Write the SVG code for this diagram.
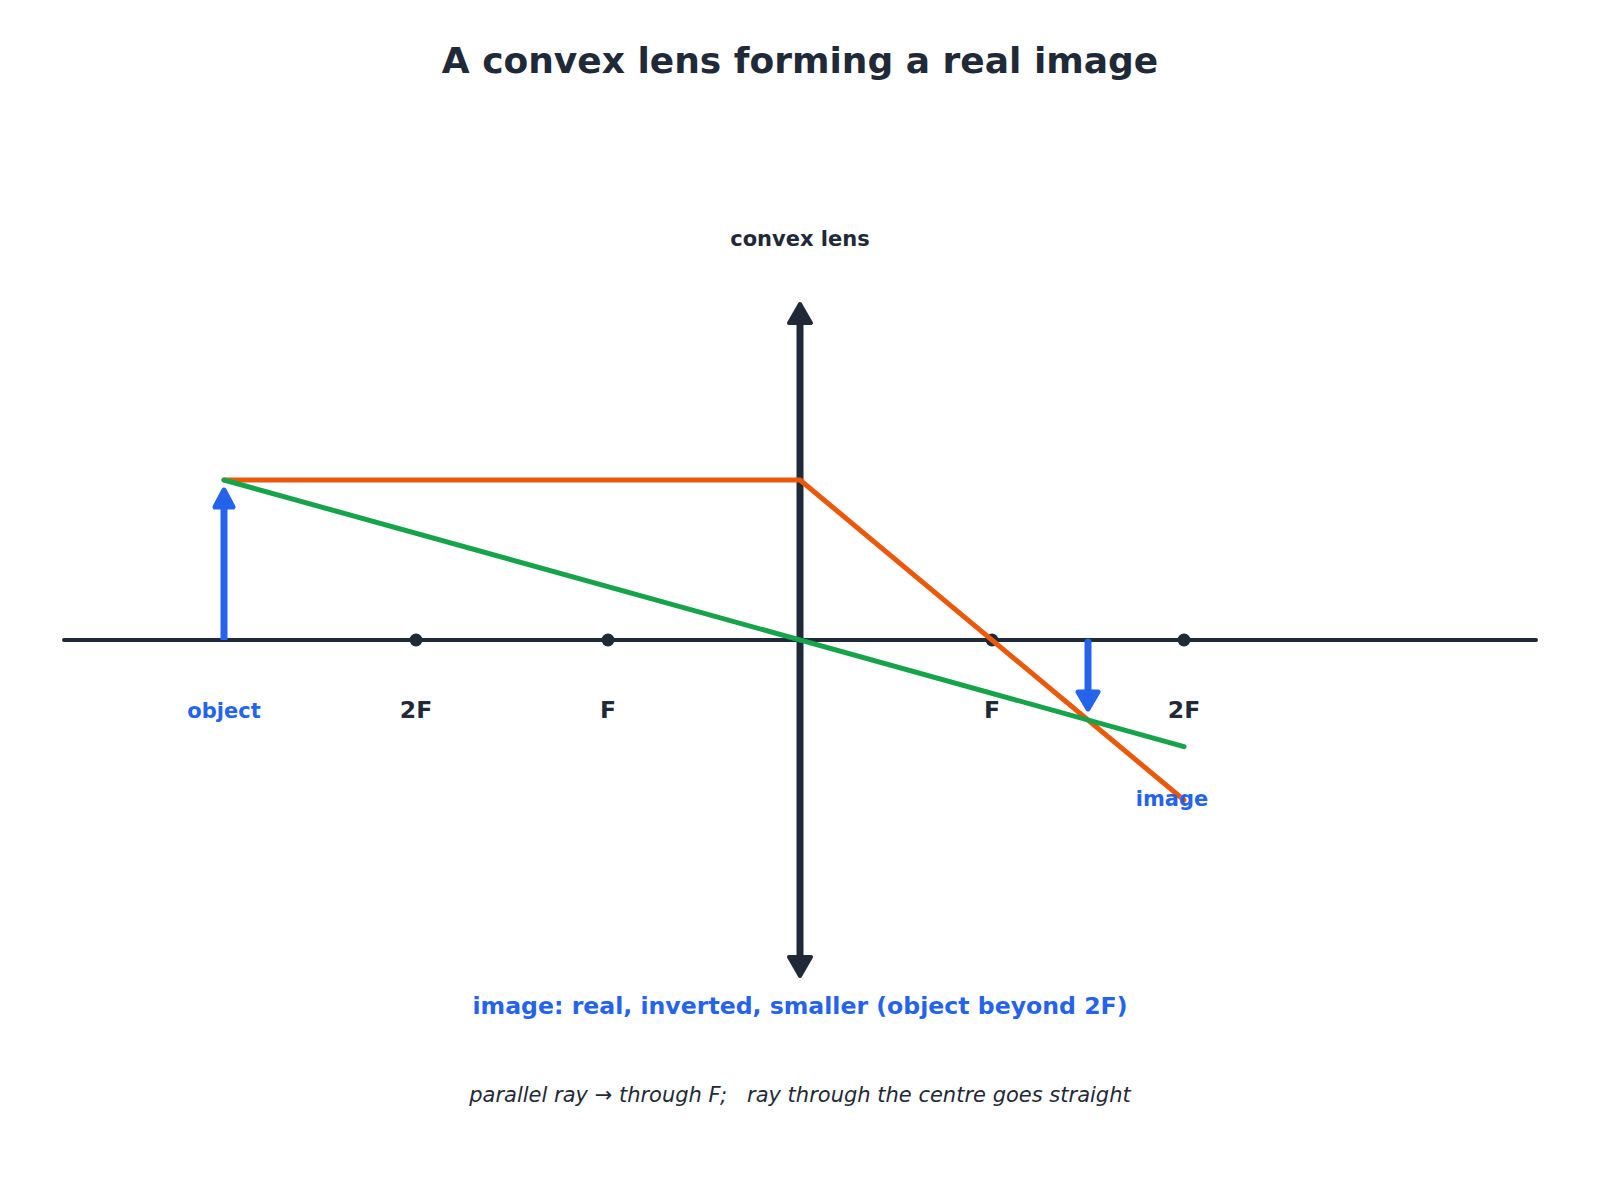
<svg xmlns="http://www.w3.org/2000/svg" width="1600" height="1200" viewBox="0 0 1600 1200">
<style>
text{font-family:"DejaVu Sans","Liberation Sans",sans-serif;text-anchor:middle}
.title{font-size:36px;font-weight:bold;fill:#1f2937}
.lbl{font-size:23.5px;font-weight:bold;fill:#1f2937}
.blue{font-size:21px;font-weight:bold;fill:#2563eb}
.dark20{font-size:21px;font-weight:bold;fill:#1f2937}
.sub{font-size:23.6px;font-weight:bold;fill:#2563eb}
.note{font-size:21px;font-style:italic;fill:#1f2937}
.ray{fill:none;stroke-width:5;stroke-linecap:round;stroke-linejoin:round}
</style>
<rect width="1600" height="1200" fill="#ffffff"/>
<text class="title" x="800" y="73">A convex lens forming a real image</text>

<g id="axis">
<line x1="64" y1="640" x2="1536" y2="640" stroke="#1f2937" stroke-width="4" stroke-linecap="round"/>
</g>

<g id="lens">
<line x1="800" y1="318" x2="800" y2="962" stroke="#1f2937" stroke-width="7"/>
<polygon points="800,304 811,323 789,323" fill="#1f2937" stroke="#1f2937" stroke-width="4" stroke-linejoin="round"/>
<polygon points="800,976 811,957 789,957" fill="#1f2937" stroke="#1f2937" stroke-width="4" stroke-linejoin="round"/>
<text class="dark20" x="800" y="246">convex lens</text>
</g>

<g id="points">
<circle cx="416" cy="640" r="6.5" fill="#1f2937"/>
<circle cx="608" cy="640" r="6.5" fill="#1f2937"/>
<circle cx="992" cy="640" r="6.5" fill="#1f2937"/>
<circle cx="1184" cy="640" r="6.5" fill="#1f2937"/>
<text class="lbl" x="416" y="718">2F</text>
<text class="lbl" x="608" y="718">F</text>
<text class="lbl" x="992" y="718">F</text>
<text class="lbl" x="1184" y="718">2F</text>
</g>

<g id="rays">
<polyline class="ray" stroke="#ea580c" points="224,480 800,480 1184,800"/>
<polyline class="ray" stroke="#16a34a" points="224,480 1184,746.7"/>
</g>

<g id="object">
<line x1="224" y1="640" x2="224" y2="505" stroke="#2563eb" stroke-width="7"/>
<polygon points="224,490 233,507 215,507" fill="#2563eb" stroke="#2563eb" stroke-width="5" stroke-linejoin="round"/>
<text class="blue" x="224" y="718">object</text>
</g>

<g id="image">
<line x1="1088" y1="642" x2="1088" y2="694" stroke="#2563eb" stroke-width="7" stroke-linecap="round"/>
<polygon points="1088,709 1098,692 1078,692" fill="#2563eb" stroke="#2563eb" stroke-width="5" stroke-linejoin="round"/>
<text class="blue" x="1172" y="806">image</text>
</g>

<text class="sub" x="800" y="1014">image: real, inverted, smaller (object beyond 2F)</text>
<text class="note" x="800" y="1102" xml:space="preserve">parallel ray → through F;   ray through the centre goes straight</text>
</svg>
